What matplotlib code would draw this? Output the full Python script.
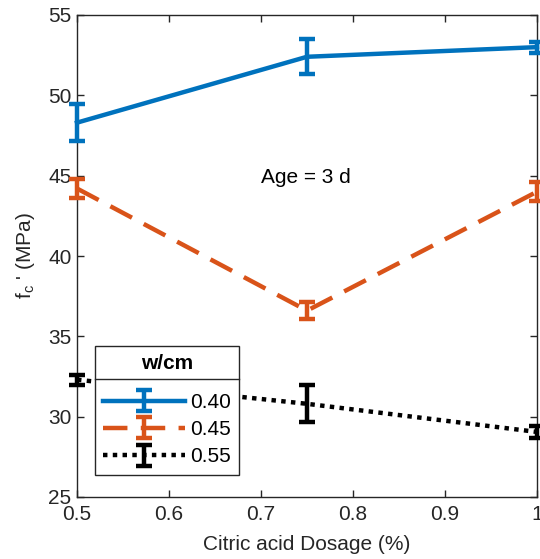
import matplotlib
matplotlib.use('Agg')
import matplotlib.pyplot as plt
from matplotlib.lines import Line2D

plt.rcParams['font.family'] = ['Liberation Sans', 'DejaVu Sans']
plt.rcParams['mathtext.fontset'] = 'custom'
plt.rcParams['mathtext.rm'] = 'Liberation Sans'

dosage = [0.5, 0.75, 1.0]
labels = ['0.40', '0.45', '0.55']
fc_040 = [48.3, 52.4, 53.0]
err_040 = [1.15, 1.1, 0.35]
fc_045 = [44.2, 36.6, 44.0]
err_045 = [0.6, 0.55, 0.6]
fc_055 = [32.3, 30.8, 29.05]
err_055 = [0.3, 1.15, 0.4]

colors = ['#0072BD', '#D95319', 'black']
styles = ['-', (0, (5.5, 3)), (0, (1, 1.2))]
axis_col = '#262626'
fs = 15

fig = plt.figure(figsize=(5.4, 5.59), dpi=100)
ax = fig.add_axes([77 / 540, 62 / 559, 460 / 540, 482 / 559])

series = [(fc_040, err_040), (fc_045, err_045), (fc_055, err_055)]
handles = []
for (vals, errs), c, ls, lab in zip(series, colors, styles, labels):
    h = ax.errorbar(dosage, vals, yerr=errs, color=c, lw=3.2, ls=ls,
                    elinewidth=3.2, capsize=5.5, capthick=3.2, label=lab,
                    clip_on=False, zorder=3)
    h[0].set_dash_capstyle('butt')
    handles.append(h)

ax.set_xlim(0.5, 1.0)
ax.set_ylim(25, 55)
ax.set_xticks([0.5, 0.6, 0.7, 0.8, 0.9, 1.0])
ax.set_xticklabels(['0.5', '0.6', '0.7', '0.8', '0.9', '1'])
ax.set_yticks([25, 30, 35, 40, 45, 50, 55])
ax.tick_params(direction='in', top=True, right=True, labelsize=fs,
               colors=axis_col, length=5, width=1)
ax.tick_params(axis='x', pad=6)
ax.tick_params(axis='y', pad=4)
for s in ax.spines.values():
    s.set_color(axis_col)
    s.set_linewidth(1)

ax.set_xlabel('Citric acid Dosage (%)', fontsize=fs, color=axis_col, labelpad=8)
ax.set_ylabel("f$_\\mathrm{c}$ ' (MPa)", fontsize=fs, color=axis_col, labelpad=8)

ax.text(0.749, 44.9, 'Age = 3 d', fontsize=fs, ha='center', va='center', color='black')

leg = ax.legend(handles=handles, loc='lower left', bbox_to_anchor=(0.039, 0.046),
                borderaxespad=0, fontsize=fs, title='w/cm', handlelength=3.9,
                handletextpad=0.25, labelspacing=0.4, fancybox=False,
                framealpha=1, edgecolor=axis_col, borderpad=0.4)
leg.get_title().set_fontweight('bold')
leg.get_title().set_fontsize(fs)
leg.get_frame().set_linewidth(1)
leg._legend_box.sep = 14

# separator line under legend title
fig.canvas.draw()
bb = leg.get_window_extent()
tb = leg.get_title().get_window_extent()
ysep = (tb.y0 - 6) / fig.bbox.height
fig.add_artist(Line2D([bb.x0 / fig.bbox.width, bb.x1 / fig.bbox.width], [ysep, ysep],
                      color=axis_col, lw=1, zorder=10))

fig.savefig('out.png', dpi=100)
